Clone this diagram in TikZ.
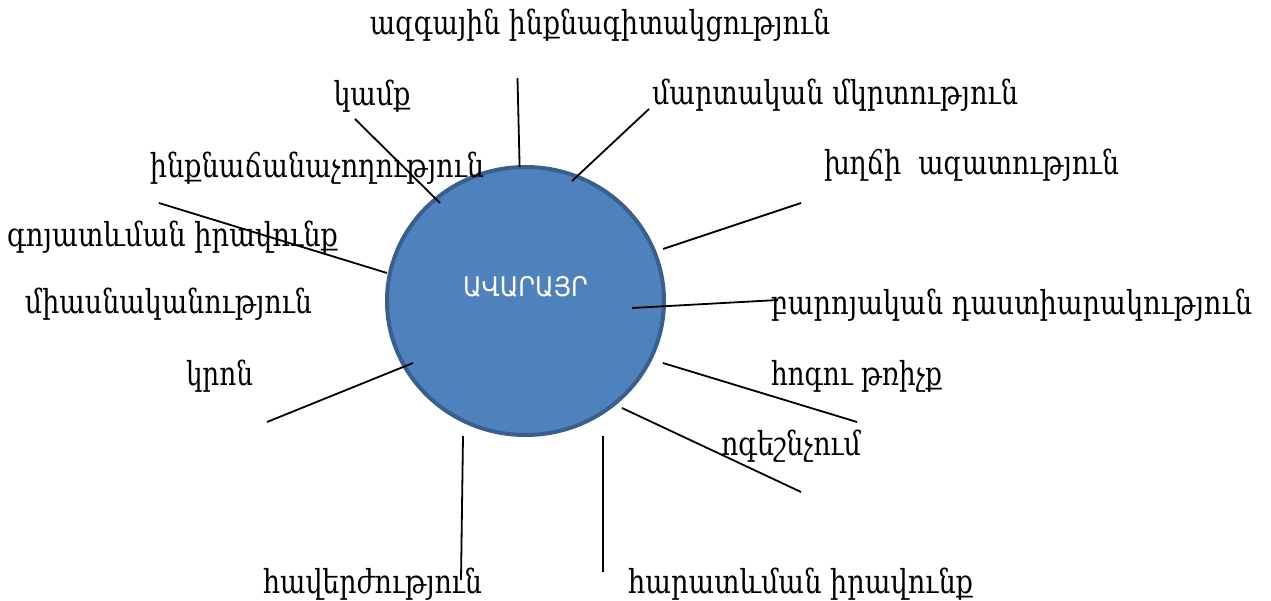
\documentclass[tikz,border=0pt]{standalone}
\usepackage{fontspec}
\usepackage{graphicx}
\setmainfont{DejaVu Serif}
\newfontfamily\sansarm{DejaVu Sans}
\usetikzlibrary{shapes.geometric}
\definecolor{ballfill}{HTML}{4F81BD}
\definecolor{balledge}{HTML}{3A5F8E}
\newcommand\fitw[2]{\resizebox{#1pt}{\height}{#2}}
\tikzset{
  lbl/.style={inner sep=0pt, anchor=base, font=\fontsize{33}{38}\selectfont},
  spoke/.style={line width=1.8pt, black},
  ball/.style={ellipse, fill=ballfill, draw=balledge, line width=4pt, inner sep=0pt,
    minimum width=277pt, minimum height=268pt}
}
\begin{document}
\begin{tikzpicture}[x=1pt,y=-1pt]
\useasboundingbox (0,0) rectangle (1271,601);
\node[ball] (ball) at (525.5,301) {};
\node[inner sep=0pt, anchor=base, text=white, font=\sansarm\fontsize{27}{30}\selectfont] (title) at (525.5,297) {\fitw{125}{ԱՎԱՐԱՅՐ}};

% labels
\node[lbl] (l1) at (600,35) {\fitw{460}{ազգային ինքնագիտակցություն}};
\node[lbl] (l2) at (372,106) {\fitw{77}{կամք}};
\node[lbl] (l3) at (835,105) {\fitw{366}{մարտական մկրտություն}};
\node[lbl] (l4) at (317,178) {\fitw{334}{ինքնաճանաչողություն}};
\node[lbl] (l5) at (971.5,175) {\fitw{295}{խղճի\ \ ազատություն}};
\node[lbl] (l6) at (172.5,247) {\fitw{331}{գոյատևման իրավունք}};
\node[lbl] (l7) at (168.5,313) {\fitw{287}{միասնականություն}};
\node[lbl] (l8) at (1011.5,315) {\fitw{481}{բարոյական դաստիարակություն}};
\node[lbl] (l9) at (219.5,385) {\fitw{67}{կրոն}};
\node[lbl] (l10) at (856.5,385) {\fitw{171}{հոգու թռիչք}};
\node[lbl] (l11) at (791,455) {\fitw{140}{ոգեշնչում}};
\node[lbl] (l12) at (372.5,593) {\fitw{219}{հավերժություն}};
\node[lbl] (l13) at (800.5,593) {\fitw{345}{հարատևման իրավունք}};

% spoke end points
\coordinate (a1) at (517.5,78);   \coordinate (b1) at (519.6,167);
\coordinate (a2) at (355,119);    \coordinate (b2) at (440,203);
\coordinate (a3) at (649,109);    \coordinate (b3) at (572,181);
\coordinate (a4) at (159,203);    \coordinate (b4) at (387,273);
\coordinate (a5) at (801,203);    \coordinate (b5) at (663,249);
\coordinate (a6) at (778,300);    \coordinate (b6) at (632,308);
\coordinate (a7) at (267,422);    \coordinate (b7) at (413,363);
\coordinate (a8) at (857,422);    \coordinate (b8) at (663,363);
\coordinate (a9) at (801,492);    \coordinate (b9) at (622,408);
\coordinate (a10) at (461,580);   \coordinate (b10) at (463,436);
\coordinate (a11) at (603,572);   \coordinate (b11) at (603,436);

\foreach \i in {1,...,11} {\draw[spoke] (a\i) -- (b\i);}
\end{tikzpicture}
\end{document}
